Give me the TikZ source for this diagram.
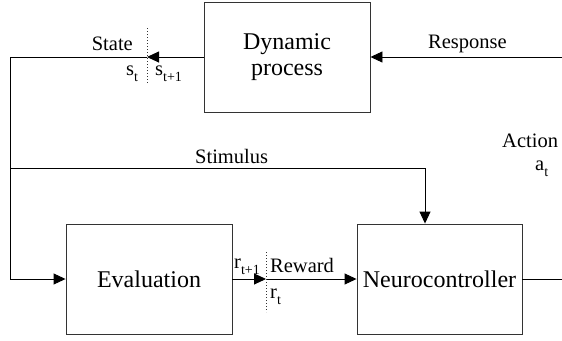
\documentclass[tikz,border=0pt]{standalone}
\usepackage{fontspec}
\setmainfont{Liberation Serif}
\usetikzlibrary{arrows.meta}
\newcommand\subs[1]{\raisebox{-6pt}{\fontsize{14}{14}\selectfont #1}}
\tikzset{
  blk/.style={draw=black!80, line width=0.9pt, minimum width=166pt, minimum height=110pt, inner sep=0pt, font=\fontsize{24}{26}\selectfont, align=center},
  lbl/.style={inner sep=0pt, font=\fontsize{20.5}{22}\selectfont},
  conn/.style={draw=black, line width=0.9pt},
  arr/.style={conn, -{Triangle[length=12pt,width=11pt]}},
  dots/.style={draw=black!80, line width=1pt, dotted}
}
\begin{document}
\begin{tikzpicture}[x=1pt,y=-1pt]
\useasboundingbox (0,0) rectangle (562,340);
\node[blk] (dyn) at (287,57) {Dynamic\\[0pt]process};
\node[blk] (eval) at (149,279) {Evaluation};
\node[blk, minimum width=165pt] (neuro) at (439.5,279) {Neurocontroller};

\coordinate (respin) at (562,57);
\coordinate (sdot) at (147,57);
\coordinate (lc) at (10,57);
\coordinate (sl) at (10,168);
\coordinate (sj) at (425,168);
\coordinate (rdot) at (266,279);
\coordinate (out) at (562,279);
\coordinate (sdt) at (147,28);
\coordinate (sdb) at (147,83);
\coordinate (rdt) at (266,252);
\coordinate (rdb) at (266,312);

\draw[arr] (respin) -- (dyn.east);
\draw[arr] (dyn.west) -- (sdot);
\draw[arr] (sdot) -- (lc) |- (eval.west);
\draw[arr] (sl) -- (sj) -- (sj |- neuro.north);
\draw[arr] (eval.east) -- (rdot);
\draw[arr] (rdot) -- (neuro.west);
\draw[conn] (neuro.east) -- (out);
\draw[dots] (sdt) -- (sdb);
\draw[dots] (rdt) -- (rdb);

\node[lbl, anchor=base east] (state) at (133,50) {State};
\node[lbl, anchor=base west] (st) at (126,75) {s\subs{t}};
\node[lbl, anchor=base west] (st1) at (155,75) {s\subs{t+1}};
\node[lbl, anchor=base west] (resp) at (428,48) {Response};
\node[lbl, anchor=base west] (act) at (502,147) {Action};
\node[lbl, anchor=base west] (at) at (535,170) {a\subs{t}};
\node[lbl, anchor=base west] (stim) at (195,163) {Stimulus};
\node[lbl, anchor=base west] (rt1) at (234,268) {r\subs{t+1}};
\node[lbl, anchor=base west] (rew) at (270,272) {Reward};
\node[lbl, anchor=base west] (rt) at (270,298) {r\subs{t}};
\end{tikzpicture}
\end{document}
